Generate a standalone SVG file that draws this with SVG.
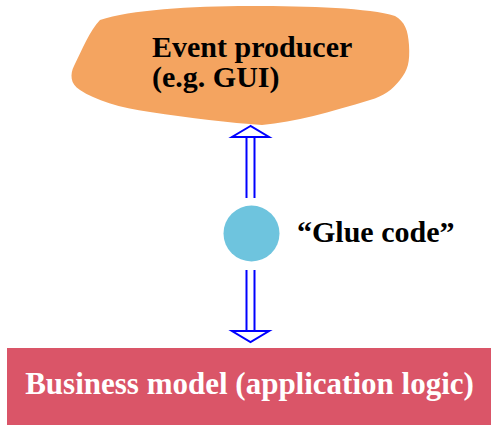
<svg xmlns="http://www.w3.org/2000/svg" width="491" height="425" viewBox="0 0 491 425">
<style>
.t{font-family:"Liberation Serif","Times New Roman",serif;font-weight:bold;font-size:30px}
.arr{fill:none;stroke:#0000ff;stroke-width:2}
.head{fill:#ffffff;stroke:#0000ff;stroke-width:2;stroke-linejoin:miter}
</style>
<rect width="491" height="425" fill="#ffffff"/>
<g id="producer">
<path d="M100,20 C130,10 190,6 250,6 C310,6 370,8 395,16 C405,22 408,30 409,45 C410,62 408,70 400,80 C392,90 384,96 370,100 C330,112 295,122 262,125 C230,123 190,118 150,112 C120,108 95,100 80,90 C70,84 70,74 74,66 C82,50 90,30 100,20 Z" fill="#f4a460"/>
<text class="t" x="152" y="57">Event producer</text>
<text class="t" x="152" y="87">(e.g. GUI)</text>
</g>
<g id="connectors">
<line class="arr" x1="246.5" y1="137" x2="246.5" y2="198"/>
<line class="arr" x1="254.5" y1="137" x2="254.5" y2="198"/>
<polygon class="head" points="250.5,126 232,137 269,137"/>
<line class="arr" x1="246.5" y1="270" x2="246.5" y2="331"/>
<line class="arr" x1="254.5" y1="270" x2="254.5" y2="331"/>
<polygon class="head" points="232,331 269,331 250.5,342"/>
</g>
<g id="glue">
<circle cx="251.5" cy="233.5" r="28" fill="#6ec4de"/>
<text class="t" x="297" y="242">“Glue code”</text>
</g>
<g id="business">
<rect x="7" y="348" width="484" height="77" fill="#da5568"/>
<text class="t" x="249.5" y="394" text-anchor="middle" fill="#ffffff" style="font-size:31px">Business model (application logic)</text>
</g>
</svg>
